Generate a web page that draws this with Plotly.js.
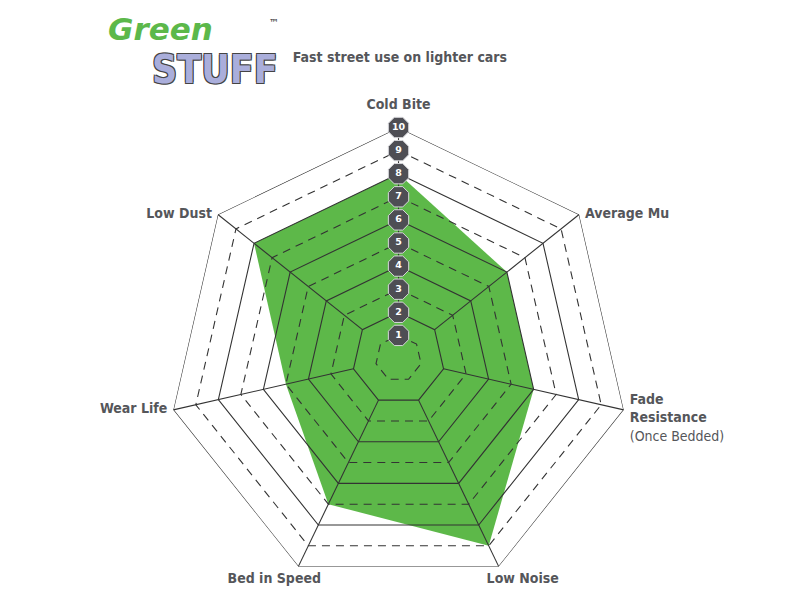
<!DOCTYPE html>
<html>
<head>
<meta charset="utf-8">
<script src="https://cdn.plot.ly/plotly-3.0.1.min.js"></script>
<style>html,body{margin:0;padding:0;background:#fff;}#chart{width:800px;height:600px;}</style>
</head>
<body>
<div id="chart"></div>
<script>
// ---- data ----
var categories = ["Cold Bite", "Average Mu", "Fade Resistance", "Low Noise", "Bed in Speed", "Wear Life", "Low Dust"];
var categoryLabels = ["<b>Cold Bite</b>", "<b>Average Mu</b>", "<b>Fade<br>Resistance</b><br>(Once Bedded)", "<b>Low Noise</b>", "<b>Bed in Speed</b>", "<b>Wear Life</b>", "<b>Low Dust</b>"];
var ratings = [8, 6, 6, 9, 7, 5, 8];
var levels = [1, 2, 3, 4, 5, 6, 7, 8, 9, 10];
var badgeLabels = ["1", "2", "3", "4", "5", "6", "7", "8", "9", "10"];
var chartTitle = "Fast street use on lighter cars";

// ---- styles ----
var GRID = "#333333";
var GREEN = "#5db849";
var TEXTC = "#55565a";
var FONT = "DejaVu Sans Condensed, Liberation Sans Narrow, Arial Narrow, sans-serif";
var NB = "\u00a0";
function pad(n) { return new Array(n + 1).join(NB); }

var closedTheta = categories.concat([categories[0]]);
var traces = [];

// filled rating polygon
traces.push({
  type: "scatterpolar", mode: "lines", fill: "toself",
  theta: closedTheta, r: ratings.concat([ratings[0]]),
  fillcolor: GREEN, line: {color: GREEN, width: 0}, hoverinfo: "skip", showlegend: false
});

// grid polygons: even solid, odd dashed
levels.forEach(function (lv) {
  traces.push({
    type: "scatterpolar", mode: "lines",
    theta: closedTheta, r: closedTheta.map(function () { return lv; }),
    line: {color: GRID, width: 1.1, dash: (lv % 2 === 0) ? "solid" : "8px,6px"},
    hoverinfo: "skip", showlegend: false, cliponaxis: false
  });
});

// spokes from level 2 to level 10
categories.forEach(function (c) {
  traces.push({
    type: "scatterpolar", mode: "lines",
    theta: [c, c], r: [levels[1], levels[levels.length - 1]],
    line: {color: GRID, width: 1.1},
    hoverinfo: "skip", showlegend: false, cliponaxis: false
  });
});

// level badges along the first axis
traces.push({
  type: "scatterpolar", mode: "markers+text",
  theta: levels.map(function () { return categories[0]; }), r: levels,
  text: badgeLabels, textposition: "middle center",
  textfont: {family: "DejaVu Sans, sans-serif", size: 9.5, color: "#ffffff", weight: "bold"},
  marker: {symbol: "octagon", size: 22, color: "#4e4e54", line: {color: "#d6d6da", width: 1}},
  hoverinfo: "skip", showlegend: false, cliponaxis: false
});

// category labels
var shownLabels = categoryLabels.slice();
shownLabels[2] = "<br>" + categoryLabels[2];
shownLabels[3] = pad(12) + categoryLabels[3];
shownLabels[4] = categoryLabels[4] + pad(12);
traces.push({
  type: "scatterpolar", mode: "markers+text",
  theta: categories, r: categories.map(function () { return levels[levels.length - 1]; }),
  text: shownLabels,
  textposition: ["top center", "middle right", "middle right", "bottom center", "bottom center", "middle left", "middle left"],
  textfont: {family: FONT, size: 14, color: TEXTC},
  marker: {size: [22, 8, 8, 8, 8, 8, 8], opacity: 0},
  hoverinfo: "skip", showlegend: false, cliponaxis: false
});

var layout = {
  width: 800, height: 600,
  margin: {l: 0, r: 0, t: 0, b: 0},
  paper_bgcolor: "#ffffff",
  showlegend: false,
  title: {
    text: "<b>" + chartTitle + "</b>",
    x: 0.366, xanchor: "left", y: 0.905, yanchor: "middle",
    font: {family: FONT, size: 14, color: TEXTC}
  },
  polar: {
    domain: {x: [0.2094, 0.7869], y: [0.0175, 0.7875]},
    gridshape: "linear",
    bgcolor: "rgba(0,0,0,0)",
    radialaxis: {range: [0, 10], visible: false, showgrid: false},
    angularaxis: {
      type: "category", categoryarray: categories,
      rotation: 90, direction: "clockwise",
      showgrid: false, showline: false, showticklabels: false, ticks: ""
    }
  },
  annotations: [
    {text: "<b><i>Green</i></b>", xref: "paper", yref: "paper", x: 0.133, y: 0.985,
     xanchor: "left", yanchor: "top", showarrow: false,
     font: {family: "DejaVu Sans, sans-serif", size: 31, color: "#5cb84a"}},
    {text: "<b>STUFF</b>", xref: "paper", yref: "paper", x: 0.188, y: 0.925,
     xanchor: "left", yanchor: "top", showarrow: false,
     font: {family: FONT, size: 39, color: "#aaaedb",
            shadow: "1px 1px 0 #444, -1px -1px 0 #444, 1px -1px 0 #444, -1px 1px 0 #444"}},
    {text: "<b>™</b>", xref: "paper", yref: "paper", x: 0.334, y: 0.962,
     xanchor: "left", yanchor: "middle", showarrow: false,
     font: {family: "DejaVu Sans, sans-serif", size: 10, color: "#555"}}
  ]
};

Plotly.newPlot("chart", traces, layout, {staticPlot: true, displayModeBar: false});
</script>
</body>
</html>
